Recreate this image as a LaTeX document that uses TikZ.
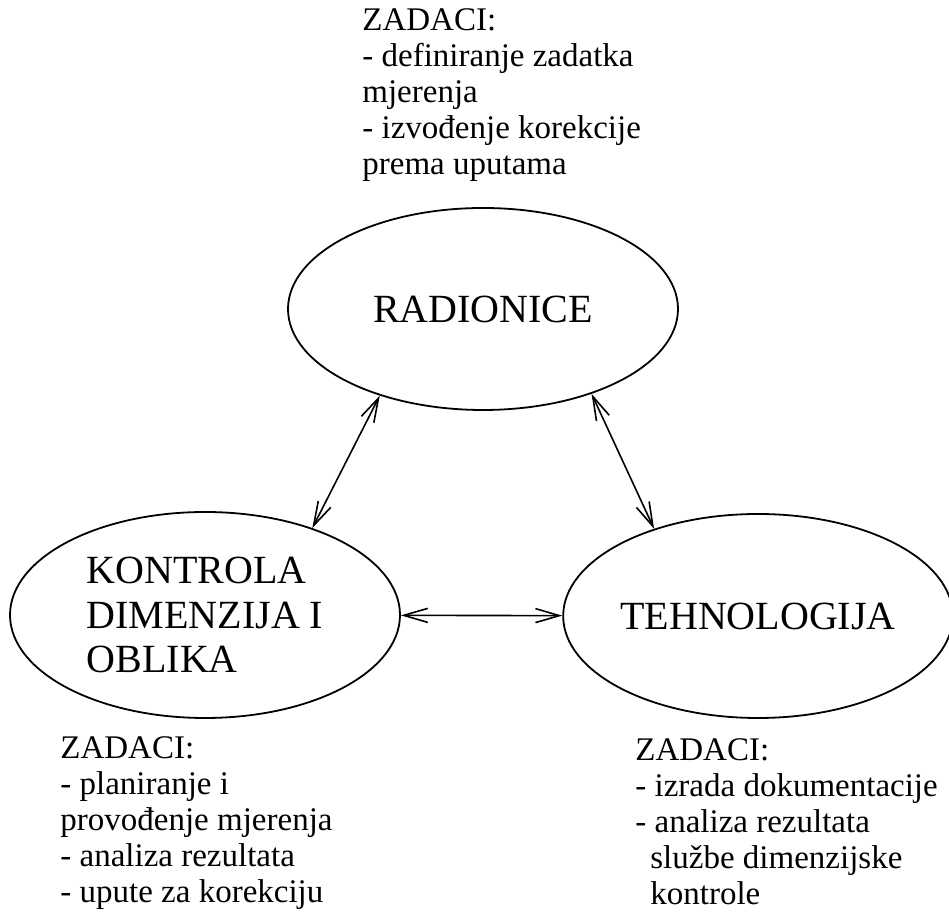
\documentclass[tikz,border=0pt]{standalone}
\usepackage{fontspec}
\setmainfont{Liberation Serif}
\usepackage{tikz}
\usetikzlibrary{shapes,arrows.meta}
\tikzstyle{oval}=[ellipse,draw,line width=0.9pt,inner sep=0pt,align=left,font=\fontsize{20}{22.25}\selectfont]
\tikzstyle{zadaci}=[anchor=north west,inner sep=0pt,align=left,font=\fontsize{16.5}{18}\selectfont]
\tikzstyle{veza}=[{Straight Barb[length=12pt,width=7pt]}-{Straight Barb[length=12pt,width=7pt]},line width=0.8pt]

\begin{document}
\begin{tikzpicture}[x=0.5pt,y=-0.5pt]
        \useasboundingbox (0,0) rectangle (949,913);
        \node[oval,minimum width=195pt,minimum height=101pt] (radionice) at (483,309) {RADIONICE};
        \node[oval,minimum width=195pt,minimum height=103pt] (kontrola) at (205,615) {KONTROLA\\DIMENZIJA I\\OBLIKA};
        \node[oval,minimum width=188pt,minimum height=102pt] (tehnologija) at (758,616) {TEHNOLOGIJA};
        \node[zadaci] (zadradionice) at (362,8) {ZADACI:\\- definiranje zadatka\\mjerenja\\- izvođenje korekcije\\prema uputama};
        \node[zadaci] (zadkontrola) at (60,736) {ZADACI:\\- planiranje i\\provođenje mjerenja\\- analiza rezultata\\- upute za korekciju};
        \node[zadaci] (zadtehnologija) at (635,738) {ZADACI:\\- izrada dokumentacije\\- analiza rezultata\\\hspace*{7.5pt}službe dimenzijske\\\hspace*{7.5pt}kontrole};
        \draw[veza] (radionice.220) -- (kontrola.39);
        \draw[veza] (radionice.322) -- (tehnologija.140);
        \draw[veza] (kontrola) -- (tehnologija);
\end{tikzpicture}
\end{document}
